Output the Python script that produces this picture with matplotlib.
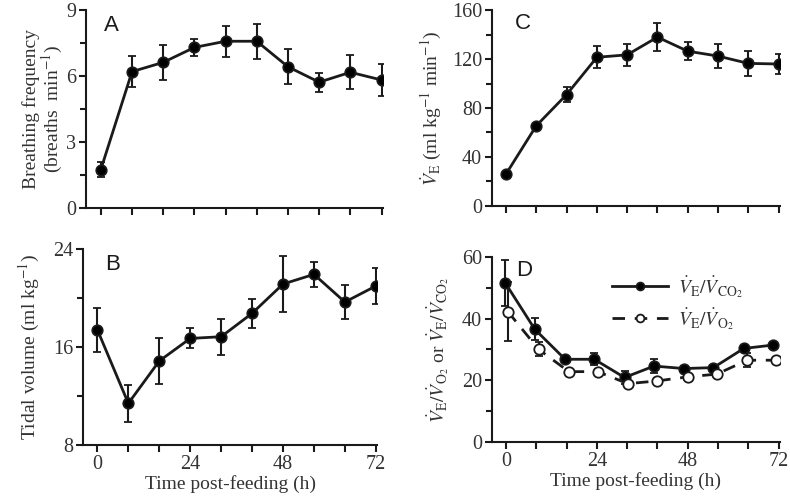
import matplotlib
matplotlib.use("Agg")
import matplotlib.pyplot as plt

plt.rcParams['font.family'] = ['Liberation Serif', 'DejaVu Serif']
plt.rcParams['mathtext.fontset'] = 'stix'

# Time post-feeding (h)
hours = [0, 8, 16, 24, 32, 40, 48, 56, 64, 72]

# A: breathing frequency (breaths min-1)
freq = [1.75, 6.2, 6.62, 7.3, 7.58, 7.58, 6.42, 5.72, 6.17, 5.82]
freq_err = [0.35, 0.7, 0.8, 0.4, 0.7, 0.8, 0.8, 0.43, 0.78, 0.72]

# B: tidal volume (ml kg-1)
tidal = [17.4, 11.4, 14.86, 16.7, 16.84, 18.75, 21.14, 21.93, 19.67, 20.98]
tidal_err = [1.8, 1.5, 1.86, 0.82, 1.48, 1.2, 2.3, 1.0, 1.4, 1.45]

# C: minute ventilation (ml kg-1 min-1)
vent = [26, 65.5, 91, 121.5, 123.5, 138, 126.5, 122.5, 116.5, 116]
vent_err = [1, 1, 6, 9, 9, 11.5, 7.5, 10, 10.5, 8]

# D: ventilatory equivalents (points slightly offset in time)
t_co2 = [-0.2, 7.6, 15.6, 23.3, 31.3, 39.1, 47.0, 54.8, 62.8, 70.5]
ve_vco2 = [51.5, 36.5, 26.8, 26.8, 20.9, 24.6, 23.8, 24.1, 30.3, 31.4]
ve_vco2_err = [7.5, 3.6, 0.8, 1.9, 2.1, 2.2, 0.8, 0.8, 0.8, 0.8]
t_o2 = [0.5, 8.6, 16.6, 24.2, 32.2, 40.0, 48.0, 55.7, 63.7, 71.4]
ve_vo2 = [42.2, 30.0, 22.8, 22.8, 18.9, 19.8, 21.1, 22.0, 26.5, 26.5]
ve_vo2_err = [9.5, 2.3, 0.8, 0.8, 0.8, 0.8, 0.8, 0.8, 2.2, 0.8]

ink = '#1a1a1a'
txt = '#333333'

fig = plt.figure(figsize=(7.9, 4.98), dpi=100)
axA = fig.add_axes([0.1089, 0.5823, 0.376, 0.3976])
axB = fig.add_axes([0.1047, 0.1064, 0.373, 0.3936])
axC = fig.add_axes([0.6224, 0.5870, 0.365, 0.3924])
axD = fig.add_axes([0.6224, 0.1124, 0.365, 0.3720])


def style(ax, ylim, yticks, yminor, letter, lx, ly, xlabels):
    ax.set_xlim(-3.8, 72.4)
    ax.set_ylim(*ylim)
    for s in ['top', 'right']:
        ax.spines[s].set_visible(False)
    for s in ['left', 'bottom']:
        ax.spines[s].set_linewidth(1.5)
        ax.spines[s].set_color(ink)
    ax.set_xticks(hours)
    if xlabels:
        ax.set_xticklabels(['0', '', '', '24', '', '', '48', '', '', '72'])
        ax.set_xlabel('Time post-feeding (h)', fontsize=14, color=txt, labelpad=1)
    else:
        ax.set_xticklabels([])
    ax.set_yticks(yticks)
    ax.set_yticks(yminor, minor=True)
    ax.tick_params(axis='both', which='major', length=5, width=1.5, color=ink,
                   labelsize=14.5, labelcolor=txt, direction='out', pad=2)
    ax.tick_params(axis='y', which='minor', length=4, width=1.5, color=ink)
    ax.text(lx, ly, letter, transform=ax.transAxes, fontsize=16,
            family='Liberation Sans', va='top', ha='left', color=ink)


def plot_series(ax, x, y, err, marker_fc='black', ls='-'):
    c = ax.errorbar(x, y, yerr=err, color=ink, lw=2, ls=ls, marker='o', ms=7.5,
                    mfc=marker_fc, mec=ink, mew=1.3, capsize=3, capthick=1.5,
                    elinewidth=1.5, zorder=3)
    return c[0]


plot_series(axA, hours, freq, freq_err)
style(axA, (0, 9), [0, 3, 6, 9], [1.5, 4.5, 7.5], 'A', 0.06, 0.975, False)
axA.set_ylabel('Breathing frequency\n(breaths  min$^{-1}$)', fontsize=14,
               color=txt, linespacing=1.0, labelpad=1)

plot_series(axB, hours, tidal, tidal_err)
style(axB, (8, 24), [8, 16, 24], [12, 20], 'B', 0.075, 0.975, True)
axB.set_ylabel('Tidal volume (ml kg$^{-1}$)', fontsize=14, color=txt, labelpad=8)

plot_series(axC, hours, vent, vent_err)
style(axC, (0, 160), [0, 40, 80, 120, 160], [20, 60, 100, 140], 'C', 0.08, 0.985, False)
axC.set_ylabel(r'$\dot{V}_{\mathrm{E}}$ (ml kg$^{-1}$ min$^{-1}$)', fontsize=14,
               color=txt, labelpad=6)

h1 = plot_series(axD, t_co2, ve_vco2, ve_vco2_err)
h2 = plot_series(axD, t_o2, ve_vo2, ve_vo2_err, marker_fc='white', ls=(0, (4.5, 3.5)))
style(axD, (0, 60), [0, 20, 40, 60], [10, 30, 50], 'D', 0.085, 0.985, True)
axD.set_ylabel(r'$\dot{V}_{\mathrm{E}}/\dot{V}_{\mathrm{O_2}}$ or '
               r'$\dot{V}_{\mathrm{E}}/\dot{V}_{\mathrm{CO_2}}$',
               fontsize=14, color=txt, labelpad=8)
leg = axD.legend([h1, h2],
                 [r'$\dot{V}_{\mathrm{E}}/\dot{V}_{\mathrm{CO_2}}$',
                  r'$\dot{V}_{\mathrm{E}}/\dot{V}_{\mathrm{O_2}}$'],
                 loc='upper left', bbox_to_anchor=(0.39, 0.95), frameon=False,
                 fontsize=14, handlelength=2.9, handletextpad=0.5,
                 labelspacing=0.3, borderaxespad=0, markerscale=0.75)
for t in leg.get_texts():
    t.set_color(txt)

fig.savefig('out.png', dpi=100)
